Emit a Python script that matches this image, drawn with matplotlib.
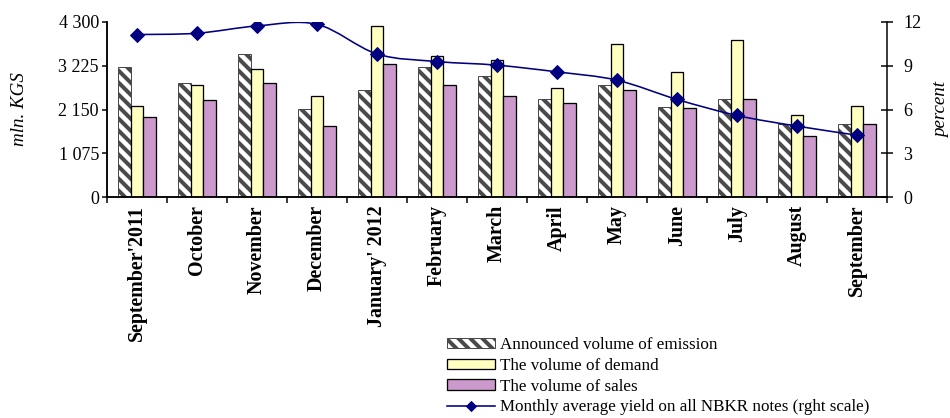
import numpy as np
import matplotlib
import matplotlib.pyplot as plt
from matplotlib.path import Path
from matplotlib.patches import PathPatch
from matplotlib.lines import Line2D

months = ["September'2011", "October", "November", "December", "January' 2012",
          "February", "March", "April", "May", "June", "July", "August", "September"]
announced = [3196, 2804, 3508, 2151, 2625, 3196, 2976, 2404, 2764, 2200, 2404, 1791, 1791]
demand = [2232, 2755, 3148, 2494, 4203, 3459, 3377, 2674, 3770, 3074, 3851, 2011, 2232]
sales = [1970, 2372, 2804, 1750, 3279, 2755, 2494, 2322, 2625, 2191, 2404, 1496, 1791]
yield_pct = [11.14, 11.23, 11.73, 11.84, 9.81, 9.29, 9.04, 8.58, 8.01, 6.69, 5.59, 4.86, 4.24]

left_ticks = [0, 1075, 2150, 3225, 4300]
left_labels = ['0', '1 075', '2 150', '3 225', '4 300']
right_ticks = [0, 3, 6, 9, 12]

plt.rcParams['font.family'] = 'Liberation Serif'
plt.rcParams['hatch.linewidth'] = 4.0

fig = plt.figure(figsize=(950 / 72, 418 / 72), dpi=72)
ax = fig.add_axes([107 / 950, 1 - 197 / 418, 780 / 950, 175 / 418])
ax2 = ax.twinx()

x = np.arange(len(months))
w = 0.21
ax.bar(x - w, announced, w, facecolor='white', edgecolor='#4a4a4a',
       hatch='\\\\', linewidth=1.0, label='Announced volume of emission')
ax.bar(x, demand, w, facecolor='#FFFFC0', edgecolor='black', linewidth=1.3,
       label='The volume of demand')
ax.bar(x + w, sales, w, facecolor='#CC99CC', edgecolor='black', linewidth=1.3,
       label='The volume of sales')

# smoothed yield curve (Catmull-Rom as cubic Bezier segments)
pts = np.column_stack([x, yield_pct]).astype(float)
ext = np.vstack([pts[0], pts, pts[-1]])
verts = [tuple(pts[0])]
codes = [Path.MOVETO]
for i in range(len(pts) - 1):
    p0, p1, p2, p3 = ext[i], ext[i + 1], ext[i + 2], ext[i + 3]
    c1 = p1 + (p2 - p0) / 6
    c2 = p2 - (p3 - p1) / 6
    verts += [tuple(c1), tuple(c2), tuple(p2)]
    codes += [Path.CURVE4] * 3
ax2.add_patch(PathPatch(Path(verts, codes), facecolor='none',
                        edgecolor='#000080', linewidth=1.6))
ax2.plot(x, yield_pct, linestyle='none', marker='D', markersize=10,
         color='#000080')

ax.set_xlim(-0.5, len(months) - 0.5)
ax.set_ylim(0, 4300)
ax2.set_ylim(0, 12)

ax.set_yticks(left_ticks)
ax.set_yticklabels(left_labels, fontsize=18)
ax2.set_yticks(right_ticks)
ax2.set_yticklabels([str(t) for t in right_ticks], fontsize=18)

ax.set_xticks(x)
ax.set_xticklabels(months, rotation=90, fontsize=20, fontweight='bold')
ax.set_xticks(np.arange(-0.5, len(months)), minor=True)
ax.tick_params(axis='x', which='major', length=0, pad=8)
ax.tick_params(axis='x', which='minor', length=6, width=1.5, direction='out')
ax.tick_params(axis='y', length=5, width=1.5, direction='out', pad=3)
ax2.tick_params(axis='y', length=12, width=1.5, direction='inout', pad=10)

for a in (ax, ax2):
    a.spines['top'].set_visible(False)
    for s in a.spines.values():
        s.set_linewidth(1.5)
ax.spines['right'].set_visible(False)

ax.set_ylabel('mln. KGS', fontsize=19, style='italic')
ax2.set_ylabel('percent', fontsize=19, style='italic')
ax.yaxis.set_label_coords(-0.101, 0.5)
ax2.yaxis.set_label_coords(1.059, 0.5)

handles, labels = ax.get_legend_handles_labels()
handles.append(Line2D([], [], color='#000080', linewidth=1.6, marker='D',
                      markersize=7))
labels.append('Monthly average yield on all NBKR notes (rght scale)')
fig.legend(handles, labels, loc='upper left', bbox_to_anchor=(447 / 950, 1 - 337 / 418),
           frameon=False, fontsize=17, handlelength=2.8, handleheight=0.55,
           handletextpad=0.3, labelspacing=0.28, borderpad=0, borderaxespad=0)

fig.savefig('out.png', dpi=72)
